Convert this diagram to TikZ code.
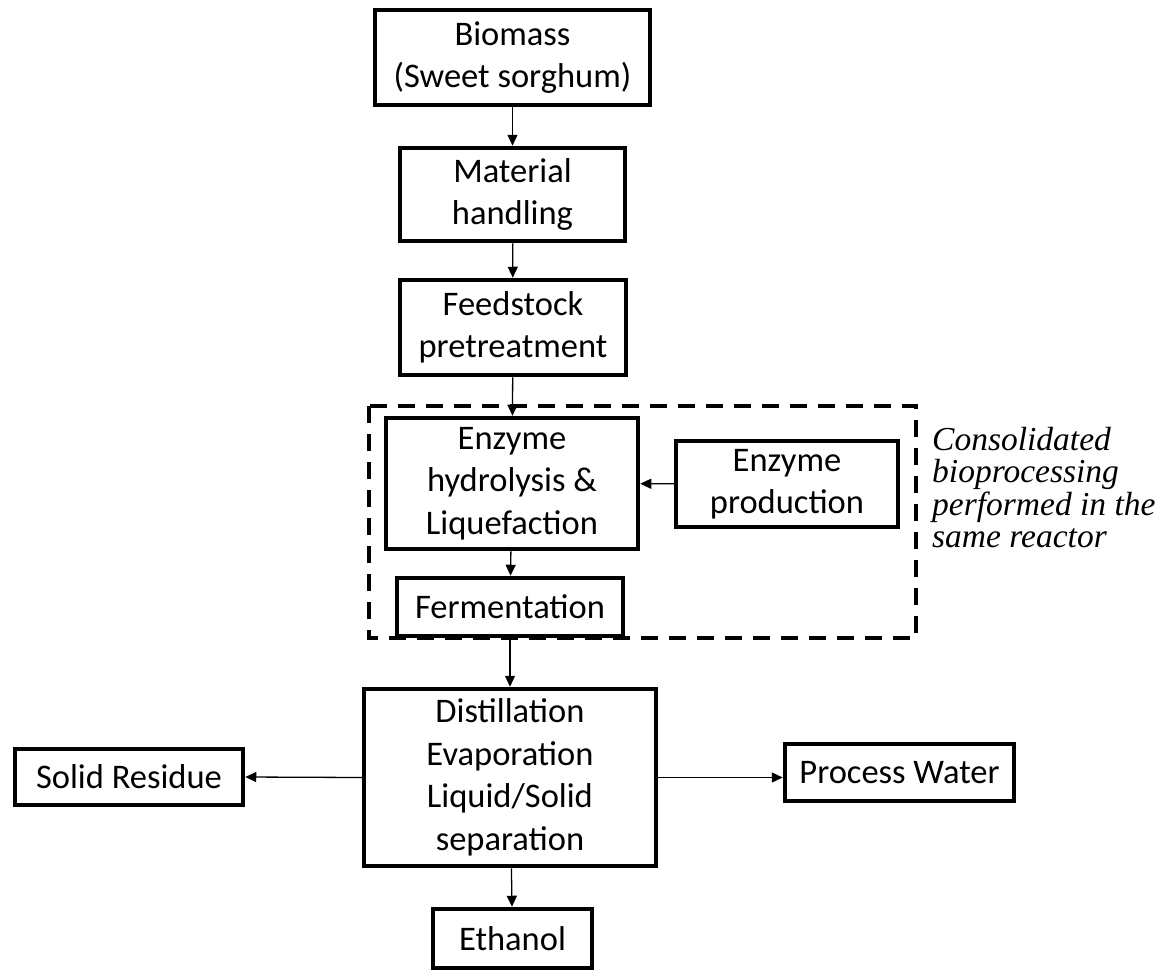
\documentclass[tikz,border=0pt]{standalone}
\usepackage{fontspec}
\setmainfont{Carlito}
\newfontfamily\notefont{Liberation Serif}
\usetikzlibrary{arrows.meta,positioning}
\tikzset{
  box/.style ={draw=black,line width=4.5pt,inner sep=2pt,align=center,
               font=\fontsize{34.5}{42.5}\selectfont},
  zone/.style={draw=black,line width=4.5pt,dash pattern=on 17pt off 11pt},
  flow/.style={-{Triangle[length=11pt,width=10pt]},line width=1.3pt,draw=black},
  note/.style={align=left,inner sep=0pt,
               font=\notefont\itshape\fontsize{33.5}{32.5}\selectfont}
}

\begin{document}
\begin{tikzpicture}[x=1pt,y=-1pt]
  \useasboundingbox (0,0) rectangle (1169,971);
  % main chain
  \node[box,minimum width=275pt,minimum height=95pt] (biomass) at (512.5,57.5)
    {Biomass\\(Sweet sorghum)};
  \node[box,minimum width=225pt,minimum height=93pt] (handling) at (512.5,194.5)
    {Material\\handling};
  \node[box,minimum width=226pt,minimum height=95pt] (pretreat) at (513,327.5)
    {Feedstock\\pretreatment};
  \node[box,minimum width=252pt,minimum height=131pt] (hydro) at (512,483.5)
    {Enzyme\\hydrolysis \&\\Liquefaction};
  \node[box,minimum width=222pt,minimum height=86pt] (enzprod) at (787,484)
    {Enzyme\\production};
  \node[box,minimum width=226pt,minimum height=58pt] (ferment) at (510,607)
    {Fermentation};
  \node[box,minimum width=292pt,minimum height=177pt] (distill) at (510,777.5)
    {Distillation\\Evaporation\\Liquid/Solid\\separation};
  \node[box,minimum width=228pt,minimum height=56pt] (residue) at (129,777)
    {Solid Residue};
  \node[box,minimum width=229pt,minimum height=57pt] (water) at (899.5,772.5)
    {Process Water};
  \node[box,minimum width=159pt,minimum height=59pt] (ethanol) at (512.5,938.5)
    {Ethanol};
  % same reactor
  \draw[zone] (369,406) rectangle (916,638);
  \node[note,anchor=north west] (cbp) at (932,427)
    {Consolidated\\bioprocessing\\performed in the\\same reactor};
  % flows
  \draw[flow] (biomass) -- (handling);
  \draw[flow] (handling) -- (pretreat);
  \draw[flow] (pretreat) -- (hydro);
  \draw[flow] (enzprod) -- (hydro);
  \draw[flow] (hydro) -- (ferment);
  \draw[flow] (ferment) -- (distill);
  \draw[flow] (distill.west) -- (residue.east);
  \draw[flow] (distill.east) -- (distill.east -| water.west);
  \draw[flow] (distill) -- (ethanol);
\end{tikzpicture}
\end{document}
